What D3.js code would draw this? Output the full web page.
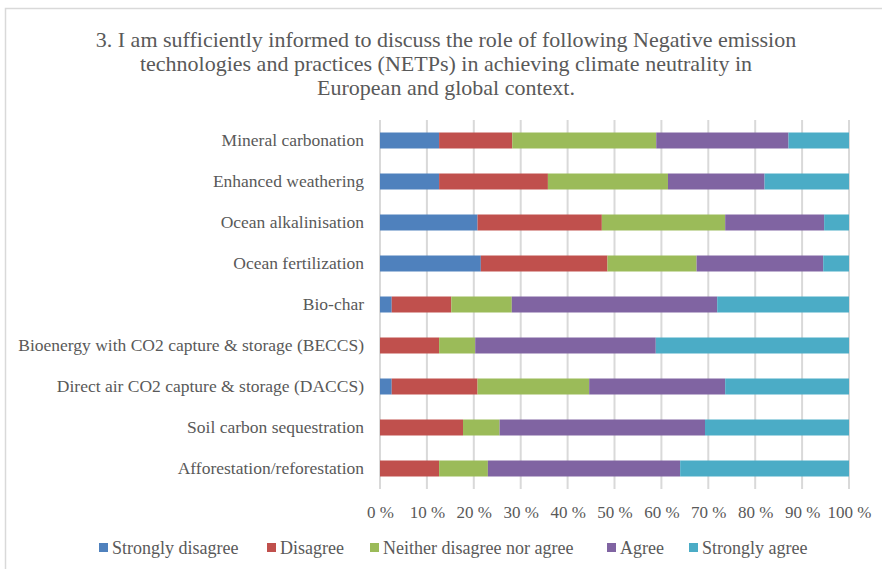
<!DOCTYPE html>
<html><head><meta charset="utf-8">
<script src="https://cdn.jsdelivr.net/npm/d3@7"></script>
<style>
body{margin:0;background:#fff;}
svg{display:block;}
text{font-family:"Liberation Serif","DejaVu Serif",serif;fill:#595959;}
</style></head>
<body><svg id="c" width="882" height="569"></svg>
<script>
const titleLines = ["3. I am sufficiently informed to discuss the role of following Negative emission",
  "technologies and practices (NETPs) in achieving climate neutrality in",
  "European and global context."];
const categories = ["Mineral carbonation","Enhanced weathering","Ocean alkalinisation","Ocean fertilization","Bio-char",
  "Bioenergy with CO2 capture & storage (BECCS)","Direct air CO2 capture & storage (DACCS)","Soil carbon sequestration","Afforestation/reforestation"];
const seriesNames = ["Strongly disagree","Disagree","Neither disagree nor agree","Agree","Strongly agree"];
const stronglyDisagree = [12.6, 12.6, 20.8, 21.5, 2.5, 0, 2.5, 0, 0];
const disagree         = [15.6, 23.2, 26.5, 27.0, 12.7, 12.6, 18.3, 17.7, 12.6];
const neither          = [30.7, 25.6, 26.3, 19.0, 12.9, 7.7, 23.8, 7.8, 10.4];
const agree            = [28.2, 20.6, 21.1, 27.0, 43.8, 38.5, 29.0, 43.8, 41.0];
const stronglyAgree    = [12.9, 18.0, 5.3, 5.5, 28.1, 41.2, 26.4, 30.7, 36.0];
const tickValues = [0,10,20,30,40,50,60,70,80,90,100];
const colors = ["#4F81BD","#C0504D","#9BBB59","#8064A2","#4BACC6"];

const series = [stronglyDisagree, disagree, neither, agree, stronglyAgree];
const rows = categories.map((c,i)=>{const o={cat:c}; seriesNames.forEach((s,j)=>o[s]=series[j][i]); return o;});
const stacked = d3.stack().keys(seriesNames)(rows);

const svg = d3.select("#c");
svg.append("rect").attr("x",5.5).attr("y",8.5).attr("width",900).attr("height",600)
  .attr("fill","#fff").attr("stroke","#D9D9D9").attr("stroke-width",1.5);

const x = d3.scaleLinear().domain([0,100]).range([380,849]);
const y = d3.scaleBand().domain(categories).range([120,489]).paddingInner(0.61).paddingOuter(0.305);

// title
svg.append("g").selectAll("text").data(titleLines).join("text")
  .attr("x",446).attr("y",(d,i)=>47+i*24).attr("text-anchor","middle")
  .style("font-size","22px").text(d=>d);

// grid
svg.append("g").selectAll("line").data(tickValues).join("line")
  .attr("x1",d=>x(d)).attr("x2",d=>x(d)).attr("y1",120).attr("y2",489)
  .attr("stroke","#D9D9D9").attr("stroke-width",2);

// bars
svg.append("g").selectAll("g").data(stacked).join("g").attr("fill",(d,i)=>colors[i])
  .selectAll("rect").data(d=>d).join("rect")
  .attr("x",d=>x(d[0])).attr("width",d=>x(d[1])-x(d[0]))
  .attr("y",d=>y(d.data.cat)).attr("height",y.bandwidth());

// y labels
const yAxis = svg.append("g").attr("transform","translate(380,0)")
  .call(d3.axisLeft(y).tickSize(0).tickPadding(16));
yAxis.select(".domain").remove();
yAxis.selectAll("text").style("font-size","17.5px").attr("fill","#595959");

// x axis
const xAxis = svg.append("g").attr("transform","translate(0,489)")
  .call(d3.axisBottom(x).tickValues(tickValues).tickFormat(d=>d+" %").tickSize(0).tickPadding(17));
xAxis.select(".domain").remove();
xAxis.selectAll("text").style("font-size","17px").attr("fill","#595959");

// legend
const legX = [99,267,370,607,689];
const leg = svg.append("g").selectAll("g").data(seriesNames).join("g")
  .attr("transform",(d,i)=>`translate(${legX[i]},548)`);
leg.append("rect").attr("x",0).attr("y",-5).attr("width",9).attr("height",9).attr("fill",(d,i)=>colors[i]);
leg.append("text").attr("x",13).attr("y",6).style("font-size","18px").text(d=>d);
</script></body></html>
